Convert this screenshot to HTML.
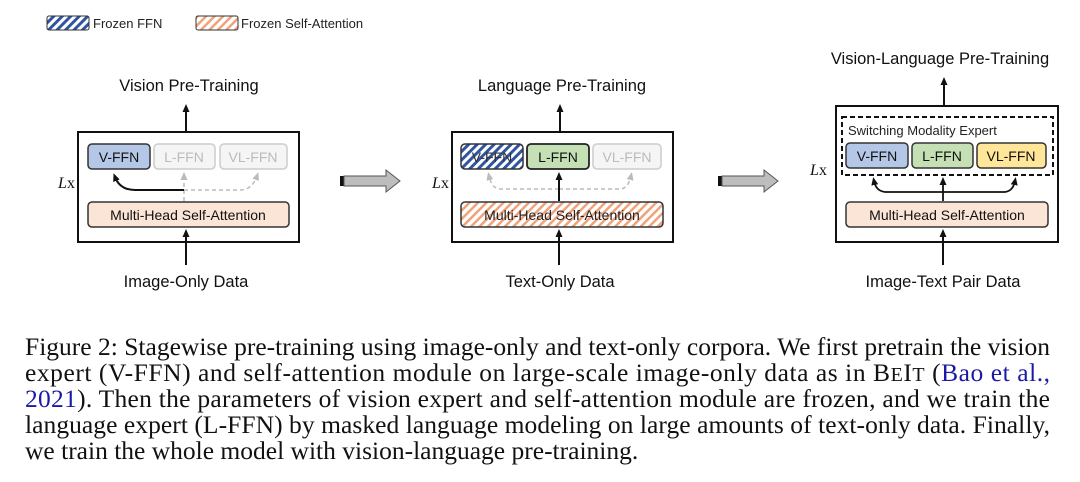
<!DOCTYPE html>
<html><head><meta charset="utf-8"><style>
html,body{margin:0;padding:0;background:#fff;}
svg{display:block}
.s{font-family:"Liberation Sans",sans-serif;}
.c{font-family:"Liberation Serif",serif;font-size:25.5px;fill:#111;}
</style></head><body>
<svg width="1080" height="482" viewBox="0 0 1080 482" xmlns="http://www.w3.org/2000/svg">
<defs>
<pattern id="hb" width="6" height="6" patternUnits="userSpaceOnUse" patternTransform="rotate(45)">
<rect width="6" height="6" fill="#fff"/><rect width="3" height="6" fill="#2f55a0"/></pattern>
<pattern id="ho" width="6" height="6" patternUnits="userSpaceOnUse" patternTransform="rotate(45)">
<rect width="6" height="6" fill="#fff"/><rect width="2.5" height="6" fill="#f0a37a"/></pattern>
<marker id="ab" markerUnits="userSpaceOnUse" markerWidth="8" markerHeight="8" refX="4" refY="4" orient="auto"><path d="M0,0.5 L8,4 L0,7.5 z" fill="#111"/></marker>
<marker id="ag" markerUnits="userSpaceOnUse" markerWidth="8" markerHeight="8" refX="4" refY="4" orient="auto"><path d="M0,0.5 L8,4 L0,7.5 z" fill="#bbb"/></marker>
<g id="bigarrow"><rect x="0" y="-5" width="4" height="10" fill="#111"/><path d="M4,-5 H46 V-11 L60,0 L46,11 V5 H4 z" fill="#bdbdbd" stroke="#555" stroke-width="1"/></g>
</defs>
<g class="s" font-size="13">
<rect x="47" y="16" width="42" height="14" rx="2" fill="url(#hb)" stroke="#333"/>
<text x="93" y="28" fill="#222">Frozen FFN</text>
<rect x="196" y="16" width="42" height="14" rx="2" fill="url(#ho)" stroke="#333"/>
<text x="241" y="28" fill="#222">Frozen Self-Attention</text>
</g>
<!-- panel 1 -->
<g class="s">
<text x="189" y="91" font-size="16.5" text-anchor="middle" fill="#111">Vision Pre-Training</text>
<line x1="186" y1="132" x2="186" y2="108" stroke="#111" stroke-width="2" marker-end="url(#ab)"/>
<rect x="78" y="132" width="221" height="110" fill="#fff" stroke="#111" stroke-width="2"/>
<text x="58" y="188" font-family="Liberation Serif,serif" font-style="italic" font-size="16" fill="#111">L</text><text x="67" y="188" font-family="Liberation Serif,serif" font-size="16" fill="#111">x</text>
<rect x="88" y="144" width="62" height="25" rx="4" fill="#b4c7e7" stroke="#333" stroke-width="1.5"/>
<text x="119" y="162" font-size="14" text-anchor="middle" fill="#111">V-FFN</text>
<rect x="154" y="144" width="61" height="25" rx="4" fill="#f5f5f5" stroke="#ccc" stroke-width="1.5"/>
<text x="184" y="162" font-size="14" text-anchor="middle" fill="#bbb">L-FFN</text>
<rect x="220" y="144" width="67" height="25" rx="4" fill="#f5f5f5" stroke="#ccc" stroke-width="1.5"/>
<text x="253" y="162" font-size="14" text-anchor="middle" fill="#bbb">VL-FFN</text>
<path d="M184,201 V176" stroke="#bbb" stroke-width="1.5" stroke-dasharray="4,3" fill="none" marker-end="url(#ag)"/>
<path d="M184,190 H240 Q252,190 257,176" stroke="#bbb" stroke-width="1.5" stroke-dasharray="4,3" fill="none" marker-end="url(#ag)"/>
<path d="M184,190 H135 Q120,190 115,177" stroke="#111" stroke-width="2" fill="none" marker-end="url(#ab)"/>
<rect x="88" y="202" width="201" height="25" rx="4" fill="#fbe5d6" stroke="#333" stroke-width="1.5"/>
<text x="188" y="220" font-size="14" text-anchor="middle" fill="#111">Multi-Head Self-Attention</text>
<line x1="186" y1="265" x2="186" y2="233" stroke="#111" stroke-width="2" marker-end="url(#ab)"/>
<text x="186" y="287" font-size="16.5" text-anchor="middle" fill="#111">Image-Only Data</text>
</g>
<use href="#bigarrow" x="340" y="181"/>
<!-- panel 2 -->
<g class="s">
<text x="562" y="91" font-size="16.5" text-anchor="middle" fill="#111">Language Pre-Training</text>
<line x1="560" y1="132" x2="560" y2="108" stroke="#111" stroke-width="2" marker-end="url(#ab)"/>
<rect x="452" y="132" width="221" height="110" fill="#fff" stroke="#111" stroke-width="2"/>
<text x="432" y="188" font-family="Liberation Serif,serif" font-style="italic" font-size="16" fill="#111">L</text><text x="441" y="188" font-family="Liberation Serif,serif" font-size="16" fill="#111">x</text>
<rect x="461" y="144" width="62" height="25" rx="4" fill="url(#hb)" stroke="#333" stroke-width="1.5"/>
<text x="492" y="162" font-size="14" text-anchor="middle" fill="#333">V-FFN</text>
<rect x="527" y="144" width="62" height="25" rx="4" fill="#c5e0b4" stroke="#222" stroke-width="1.8"/>
<text x="558" y="162" font-size="14" text-anchor="middle" fill="#111">L-FFN</text>
<rect x="593" y="144" width="68" height="25" rx="4" fill="#f5f5f5" stroke="#ccc" stroke-width="1.5"/>
<text x="627" y="162" font-size="14" text-anchor="middle" fill="#bbb">VL-FFN</text>
<path d="M559,189 H500 Q492,189 489,176" stroke="#bbb" stroke-width="1.5" stroke-dasharray="4,3" fill="none" marker-end="url(#ag)"/>
<path d="M559,189 H620 Q628,189 631,176" stroke="#bbb" stroke-width="1.5" stroke-dasharray="4,3" fill="none" marker-end="url(#ag)"/>
<line x1="559" y1="201" x2="559" y2="176" stroke="#111" stroke-width="2" marker-end="url(#ab)"/>
<rect x="461" y="202" width="202" height="25" rx="4" fill="url(#ho)" stroke="#333" stroke-width="1.5"/>
<text x="562" y="220" font-size="14" text-anchor="middle" fill="#222">Multi-Head Self-Attention</text>
<line x1="559" y1="265" x2="559" y2="233" stroke="#111" stroke-width="2" marker-end="url(#ab)"/>
<text x="560" y="287" font-size="16.5" text-anchor="middle" fill="#111">Text-Only Data</text>
</g>
<use href="#bigarrow" x="718" y="181"/>
<!-- panel 3 -->
<g class="s">
<text x="940" y="64" font-size="16.5" text-anchor="middle" fill="#111">Vision-Language Pre-Training</text>
<line x1="944" y1="106" x2="944" y2="81" stroke="#111" stroke-width="2" marker-end="url(#ab)"/>
<rect x="836" y="106" width="222" height="136" fill="#fff" stroke="#111" stroke-width="2"/>
<text x="810" y="175" font-family="Liberation Serif,serif" font-style="italic" font-size="16" fill="#111">L</text><text x="819" y="175" font-family="Liberation Serif,serif" font-size="16" fill="#111">x</text>
<rect x="842" y="117" width="211" height="58" fill="none" stroke="#111" stroke-width="2" stroke-dasharray="5,3"/>
<text x="848" y="135" font-size="13" fill="#222">Switching Modality Expert</text>
<rect x="846" y="143" width="62" height="25" rx="4" fill="#b4c7e7" stroke="#333" stroke-width="1.5"/>
<text x="877" y="161" font-size="14" text-anchor="middle" fill="#111">V-FFN</text>
<rect x="912" y="143" width="61" height="25" rx="4" fill="#c5e0b4" stroke="#333" stroke-width="1.5"/>
<text x="942" y="161" font-size="14" text-anchor="middle" fill="#111">L-FFN</text>
<rect x="977" y="143" width="69" height="25" rx="4" fill="#ffe699" stroke="#333" stroke-width="1.5"/>
<text x="1011" y="161" font-size="14" text-anchor="middle" fill="#111">VL-FFN</text>
<path d="M943,201 V181" stroke="#111" stroke-width="1.8" fill="none" marker-end="url(#ab)"/>
<path d="M943,192 H885 Q876,191 874,181" stroke="#111" stroke-width="1.8" fill="none" marker-end="url(#ab)"/>
<path d="M943,192 H1005 Q1013,191 1015,181" stroke="#111" stroke-width="1.8" fill="none" marker-end="url(#ab)"/>
<rect x="846" y="202" width="202" height="25" rx="4" fill="#fbe5d6" stroke="#333" stroke-width="1.5"/>
<text x="947" y="220" font-size="14" text-anchor="middle" fill="#111">Multi-Head Self-Attention</text>
<line x1="943" y1="265" x2="943" y2="233" stroke="#111" stroke-width="2" marker-end="url(#ab)"/>
<text x="943" y="287" font-size="16.5" text-anchor="middle" fill="#111">Image-Text Pair Data</text>
</g>
<!-- caption -->
<text class="c" x="25" y="355" textLength="1025" lengthAdjust="spacing">Figure 2:  Stagewise pre-training using image-only and text-only corpora. We first pretrain the vision</text>
<text class="c" x="25" y="381" textLength="1025" lengthAdjust="spacing">expert (V-FFN) and self-attention module on large-scale image-only data as in B<tspan font-size="20">E</tspan>I<tspan font-size="20">T</tspan> (<tspan fill="#1a1aa6">Bao et al.,</tspan></text>
<text class="c" x="25" y="407" textLength="1025" lengthAdjust="spacing"><tspan fill="#1a1aa6">2021</tspan>). Then the parameters of vision expert and self-attention module are frozen, and we train the</text>
<text class="c" x="25" y="433" textLength="1025" lengthAdjust="spacing">language expert (L-FFN) by masked language modeling on large amounts of text-only data. Finally,</text>
<text class="c" x="25" y="459">we train the whole model with vision-language pre-training.</text>
</svg>
</body></html>
